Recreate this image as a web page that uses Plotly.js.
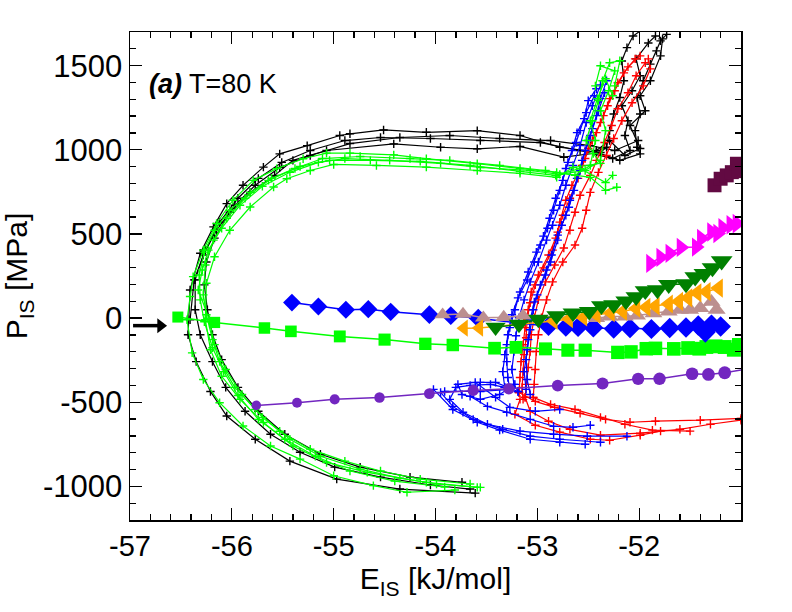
<!DOCTYPE html>
<html>
<head>
<meta charset="utf-8">
<script src="https://cdn.plot.ly/plotly-2.35.2.min.js"></script>
<style>html,body{margin:0;padding:0;background:#fff;}#chart{width:792px;height:612px;}</style>
</head>
<body>
<div id="chart"></div>
<script>
// ---------- axis ticks ----------
const xTickVals = [-57, -56, -55, -54, -53, -52];
const xTickText = ['-57', '-56', '-55', '-54', '-53', '-52'];
const yTickVals = [-1000, -500, 0, 500, 1000, 1500];
const yTickText = ['-1000', '-500', '0', '500', '1000', '1500'];

// ---------- trajectories (E_IS [kJ/mol], P_IS [MPa]) ----------
// black
const k1E = [-53.61,-54.35,-54.97,-55.43,-55.77,-56.05,-56.21,-56.35,-56.43,-56.41,-56.31,-56.18,-56.05,-55.89,-55.69,-55.53,-55.26,-54.94,-54.84,-54.51,-54.09,-53.59,-53.17,-52.78,-52.42,-52.19,-51.99,-52.02,-52.04,-51.99,-52.02,-51.96,-51.89,-51.83,-51.79,-51.73];
const k1P = [-1040,-1016,-957,-850,-720,-582,-436,-259,-99,167,385,542,680,789,897,976,1025,1085,1095,1118,1104,1114,1085,1015,986,937,976,1015,1114,1213,1311,1410,1509,1588,1647,1686];
const k2E = [-53.74,-54.25,-54.74,-55.13,-55.48,-55.74,-55.94,-56.10,-56.19,-56.24,-56.27,-56.25,-56.17,-56.02,-55.82,-55.58,-55.40,-55.07,-54.41,-53.95,-53.59,-53.17,-52.74,-52.38,-52.32,-52.29,-52.25,-52.19,-52.15,-52.17,-52.12,-52.06,-51.99];
const k2P = [-976,-945,-886,-809,-690,-554,-412,-247,-99,49,197,333,475,629,747,848,937,996,1035,1015,1006,1020,956,984,1015,1114,1213,1311,1410,1528,1607,1676,1706];
const k3E = [-56.41,-56.37,-56.26,-56.12,-55.94,-55.74,-55.51,-55.23,-54.89,-54.54,-54.05,-53.56,-52.97,-52.58,-52.26,-52.09,-52.14,-52.11,-52.17,-52.07,-51.99,-52.03,-51.91,-51.84];
const k3P = [-10,227,404,570,712,830,925,996,1055,1073,1067,1055,1043,996,948,996,1085,1173,1262,1351,1440,1540,1635,1676];
const k4E = [-52.42,-52.29,-52.14,-51.99,-52.09,-51.94,-51.99,-51.89,-51.79,-51.77];
const k4P = [996,1055,966,1008,1144,1232,1321,1410,1558,1659];
const k5E = [-53.66,-54.05,-54.54,-54.99,-55.33,-55.62,-55.87,-56.06,-56.19,-56.31,-56.36,-56.36,-56.28,-56.15,-55.97,-55.77,-55.53,-55.23,-54.84,-54.35,-53.86,-53.37,-52.87,-52.48,-52.24,-52.01];
const k5P = [-1016,-992,-945,-886,-797,-690,-554,-412,-259,-99,49,227,375,522,670,789,895,966,1037,1073,1085,1067,1055,1025,996,1055];

// red
const r1E = [-51.99,-52.11,-52.21,-52.29,-52.35,-52.42,-52.50,-52.56,-52.66,-52.72,-52.78,-52.82,-52.89,-52.99,-53.06,-53.09,-53.12,-53.14,-53.16,-53.17,-53.18];
const r1P = [1558,1493,1398,1304,1203,1102,1008,907,789,700,570,475,375,256,155,49,-57,-158,-259,-353,-442];
const r2E = [-51.91,-51.89,-51.96,-52.07,-52.17,-52.25,-52.32,-52.40,-52.48,-52.52,-52.56,-52.63,-52.75,-52.85,-52.91,-52.96,-52.99,-53.01,-53.02,-53.03,-53.04];
const r2P = [1540,1481,1380,1280,1173,1067,966,866,747,641,534,434,333,215,108,2,-99,-199,-306,-394,-471];
const r3E = [-51.94,-52.03,-52.11,-52.21,-52.27,-52.34,-52.42,-52.48,-52.58,-52.63,-52.68,-52.74,-52.83,-52.92,-52.99,-53.03,-53.06,-53.07,-53.09,-53.11,-53.12];
const r3P = [1517,1440,1339,1244,1144,1043,937,848,730,629,522,416,315,215,108,2,-99,-199,-294,-394,-471];
const r4E = [-52.04,-52.15,-52.24,-52.31,-52.38,-52.46,-52.53,-52.60,-52.68,-52.75,-52.80,-52.85,-52.94,-53.02,-53.07,-53.10,-53.11,-53.13,-53.14,-53.15,-53.14];
const r4P = [1540,1457,1351,1262,1162,1055,948,830,712,611,511,404,298,197,91,-10,-117,-217,-318,-412,-483];
const rb1E = [-53.18,-53.02,-52.83,-52.58,-52.33,-52.09,-51.84,-51.40,-51.00];
const rb1P = [-442,-495,-531,-566,-602,-619,-613,-607,-596];
const rb2E = [-53.12,-53.07,-52.89,-52.68,-52.38,-51.99,-51.60,-51.30,-51.00];
const rb2P = [-471,-554,-613,-661,-696,-684,-661,-631,-607];
const rb3E = [-53.17,-53.22,-53.02,-52.78,-52.48,-52.29,-51.99,-51.79];
const rb3P = [-483,-572,-637,-678,-720,-726,-696,-672];
const rb4E = [-53.04,-52.87,-52.63,-52.38,-52.14,-51.87,-51.50];
const rb4P = [-471,-513,-543,-590,-631,-666,-672];

// blue
const b1E = [-52.42,-52.50,-52.54,-52.61,-52.66,-52.72,-52.78,-52.84,-52.90,-52.97,-53.03,-53.10,-53.19,-53.25,-53.29,-53.32,-53.34,-53.32];
const b1P = [1363,1292,1185,1102,996,889,759,641,534,434,333,226,120,20,-99,-217,-318,-412];
const b2E = [-52.34,-52.40,-52.46,-52.50,-52.56,-52.61,-52.68,-52.72,-52.80,-52.86,-52.91,-52.97,-53.03,-53.07,-53.09,-53.11,-53.10,-53.07];
const b2P = [1339,1232,1126,1055,937,830,700,611,493,375,286,197,96,-10,-128,-247,-365,-454];
const b3E = [-52.38,-52.46,-52.52,-52.58,-52.65,-52.72,-52.78,-52.85,-52.91,-52.99,-53.07,-53.13,-53.18,-53.21,-53.23,-53.25,-53.23,-53.19];
const b3P = [1386,1262,1162,1025,907,789,670,552,463,333,215,108,2,-105,-199,-306,-394,-436];
const b4E = [-52.44,-52.52,-52.58,-52.62,-52.70,-52.75,-52.82,-52.88,-52.94,-53.01,-53.09,-53.17,-53.22,-53.27,-53.30,-53.30,-53.29,-53.27];
const b4P = [1321,1221,1114,1043,925,818,712,593,487,392,274,155,49,-57,-158,-259,-353,-424];
const b5E = [-52.32,-52.38,-52.42,-52.48,-52.53,-52.58,-52.64,-52.69,-52.76,-52.80,-52.87,-52.92,-53.00,-53.04,-53.07,-53.10,-53.13,-53.11];
const b5P = [1410,1304,1203,1085,996,877,759,659,552,463,333,256,138,49,-69,-188,-318,-424];
const bb1E = [-53.32,-53.46,-53.66,-53.80,-53.86,-53.73,-53.49,-53.17,-52.84,-52.51,-52.12];
const bb1P = [-412,-394,-400,-412,-483,-560,-631,-672,-690,-702,-702];
const bb2E = [-53.27,-53.56,-53.91,-53.95,-53.83,-53.63,-53.34,-53.07,-52.78,-52.38];
const bb2P = [-424,-436,-436,-442,-525,-602,-661,-702,-720,-738];
const bb3E = [-53.19,-53.41,-53.56,-53.66,-53.49,-53.30,-53.07,-52.84,-52.65,-52.48];
const bb3P = [-436,-382,-382,-465,-525,-560,-602,-643,-649,-637];
const bb4E = [-54.02,-53.83,-53.59,-53.37,-53.07,-52.78,-52.53];
const bb4P = [-424,-543,-619,-666,-720,-738,-750];
const bb5E = [-53.22,-53.37,-53.56,-53.74,-53.78,-53.61,-53.41,-53.27,-53.02,-52.78];
const bb5P = [-394,-454,-483,-454,-394,-382,-471,-531,-554,-543];

// green
const g1E = [-53.81,-54.28,-54.61,-55.00,-55.33,-55.62,-55.89,-56.12,-56.28,-56.39,-56.44,-56.41,-56.38,-56.28,-56.15,-55.99,-55.79,-55.56,-55.30,-55.07,-54.84,-54.41,-54.09,-53.59,-53.17,-52.81,-52.48,-52.33,-52.22];
const g1P = [-1022,-1035,-996,-937,-838,-760,-641,-503,-365,-207,-10,128,246,404,562,700,818,888,947,980,980,970,947,917,889,865,836,759,777];
const g2E = [-53.59,-54.09,-54.67,-55.07,-55.40,-55.69,-55.92,-56.10,-56.21,-56.26,-56.25,-56.17,-56.02,-55.82,-55.59,-55.46,-55.23,-55.00,-54.58,-54.09,-53.59,-53.17,-52.81,-52.65,-52.38,-52.45,-52.52,-52.46,-52.40,-52.36,-52.29,-52.19,-52.24];
const g2P = [-1006,-976,-917,-858,-760,-621,-483,-346,-188,-10,207,364,522,660,779,828,877,913,907,897,877,860,836,895,919,978,1055,1173,1292,1410,1517,1529,1380];
const g3E = [-53.56,-53.99,-54.35,-54.74,-55.13,-55.43,-55.70,-55.90,-56.06,-56.17,-56.22,-56.33,-56.29,-56.23,-56.10,-55.92,-55.70,-55.43,-55.15,-54.89,-54.45,-53.95,-53.56,-53.07,-52.78,-52.53,-52.38,-52.33,-52.38,-52.30,-52.24,-52.38,-52.43];
const g3P = [-1006,-986,-951,-898,-821,-720,-590,-454,-306,-158,-10,167,286,404,534,670,783,866,925,948,937,919,895,877,854,877,937,1114,1232,1351,1469,1499,1380];
const g4E = [-53.66,-54.15,-54.54,-54.89,-55.23,-55.53,-55.77,-55.97,-56.12,-56.19,-56.25,-56.28,-56.26,-56.18,-56.05,-55.87,-55.64,-55.38,-55.11,-54.74,-54.25,-53.86,-53.37,-52.92,-52.63,-52.48,-52.43,-52.48,-52.41,-52.33,-52.26];
const g4P = [-986,-957,-909,-850,-779,-673,-543,-412,-259,-128,20,138,315,463,593,712,818,889,948,960,948,937,907,877,848,907,1055,1173,1304,1422,1321];
const g5E = [-53.91,-54.40,-54.84,-55.18,-55.48,-55.74,-55.94,-56.08,-56.19,-56.27,-56.31,-56.32,-56.27,-56.17,-56.02,-55.82,-55.61,-55.33,-55.04,-54.64,-54.15,-53.66,-53.17,-52.82,-52.58,-52.33,-52.26];
const g5P = [-1004,-969,-909,-821,-720,-602,-460,-318,-176,-22,108,256,392,522,641,747,830,901,937,937,931,907,872,848,889,806,848];

// ---------- marker series ----------
const maroonE = [-51.26,-51.20,-51.14,-51.09,-51.04,-51.02];
const maroonP = [789,828,848,867,917,873];
const magentaE = [-51.89,-51.79,-51.70,-51.59,-51.44,-51.39,-51.29,-51.23,-51.18,-51.10,-51.04];
const magentaP = [325,361,385,420,422,473,512,503,537,555,561];
const dgreenE = [-53.41,-53.18,-52.99,-52.81,-52.65,-52.49,-52.37,-52.25,-52.13,-52.03,-51.94,-51.82,-51.71,-51.54,-51.45,-51.36,-51.28,-51.19];
const dgreenP = [-54,-37,-7,14,30,39,73,79,101,126,162,167,199,203,244,263,298,339];
const orangeE = [-53.72,-53.57,-52.84,-52.69,-52.55,-52.42,-52.28,-52.16,-52.03,-51.93,-51.84,-51.71,-51.61,-51.52,-51.43,-51.34,-51.22];
const orangeP = [-60,-59,-17,-6,4,20,31,39,57,64,71,83,99,120,150,157,178];
const brownE = [-53.93,-53.73,-53.53,-53.33,-53.14,-52.42,-52.29,-52.14,-52.02,-51.86,-51.71,-51.60,-51.50,-51.40,-51.29,-51.24];
const brownP = [20,24,2,5,14,-1,9,9,15,28,39,49,49,59,96,49];
const diamondE = [-55.41,-55.15,-54.88,-54.66,-54.44,-54.06,-53.85,-53.58,-52.89,-52.72,-52.60,-52.45,-52.25,-52.09,-51.88,-51.70,-51.54,-51.42,-51.35,-51.29,-51.20];
const diamondP = [92,69,49,53,37,20,14,-1,-49,-53,-54,-57,-63,-60,-65,-59,-56,-44,-85,-40,-50];
const limeE = [-56.53,-56.17,-55.68,-55.42,-54.94,-54.50,-54.10,-53.83,-53.42,-53.21,-52.92,-52.70,-52.53,-52.21,-52.08,-51.93,-51.84,-51.66,-51.52,-51.41,-51.34,-51.25,-51.16,-51.07,-51.02];
const limeP = [6,-26,-59,-79,-109,-128,-153,-160,-179,-174,-183,-191,-191,-204,-201,-182,-180,-183,-178,-182,-172,-168,-172,-188,-160];
const purpleE = [-55.76,-55.36,-54.99,-54.55,-54.06,-53.63,-53.28,-52.80,-52.36,-52.01,-51.80,-51.48,-51.32,-51.16,-50.98];
const purpleP = [-519,-503,-483,-472,-449,-430,-420,-401,-389,-361,-361,-331,-335,-325,-307];

// arrow (tail / head)
const arrowE = [-56.97, -56.70];
const arrowP = [-45, -45];

// ---------- styling ----------
const BLACK = '#000000', RED = '#ff0000', BLUE = '#0000ff', LIME = '#00ff00';
const FONT = 'Liberation Sans, Arial, Helvetica, sans-serif';

function traj(x, y, color) {
  return {
    x: x, y: y, type: 'scatter', mode: 'lines+markers',
    line: {color: color, width: 1.2},
    marker: {symbol: 'cross-thin', size: 6, opacity: 1, line: {color: color, width: 1.4}, color: color},
    hoverinfo: 'skip', showlegend: false
  };
}
function grow(xs, s0, s1) {
  return xs.map(v => s0 + (s1 - s0) * Math.max(0, Math.min(1, (v + 56.6) / 5.6)));
}
function series(x, y, color, symbol, s0, s1) {
  return {
    x: x, y: y, type: 'scatter', mode: 'lines+markers',
    line: {color: color, width: 1.5},
    marker: {symbol: symbol, size: grow(x, s0, s1), opacity: 1, color: color, line: {width: 0}},
    hoverinfo: 'skip', showlegend: false
  };
}

const data = [
  traj(k1E, k1P, BLACK), traj(k2E, k2P, BLACK), traj(k3E, k3P, BLACK), traj(k4E, k4P, BLACK), traj(k5E, k5P, BLACK),
  traj(r1E, r1P, RED), traj(r2E, r2P, RED), traj(r3E, r3P, RED), traj(r4E, r4P, RED),
  traj(rb1E, rb1P, RED), traj(rb2E, rb2P, RED), traj(rb3E, rb3P, RED), traj(rb4E, rb4P, RED),
  traj(b1E, b1P, BLUE), traj(b2E, b2P, BLUE), traj(b3E, b3P, BLUE), traj(b4E, b4P, BLUE), traj(b5E, b5P, BLUE),
  traj(bb1E, bb1P, BLUE), traj(bb2E, bb2P, BLUE), traj(bb3E, bb3P, BLUE), traj(bb4E, bb4P, BLUE), traj(bb5E, bb5P, BLUE),
  traj(g1E, g1P, LIME), traj(g2E, g2P, LIME), traj(g3E, g3P, LIME), traj(g4E, g4P, LIME), traj(g5E, g5P, LIME),
  series(purpleE, purpleP, '#7226c0', 'circle', 9, 13),
  series(limeE, limeP, LIME, 'square', 11, 14),
  series(diamondE, diamondP, BLUE, 'diamond', 13, 16),
  series(brownE, brownP, '#bc8f8f', 'triangle-up', 13, 16),
  series(orangeE, orangeP, '#ffa500', 'triangle-left', 13, 17),
  series(dgreenE, dgreenP, '#008000', 'triangle-down', 16, 19),
  series(magentaE, magentaP, '#ff00ff', 'triangle-right', 14, 17),
  series(maroonE, maroonP, '#620a42', 'square', 13, 14),
  {
    x: arrowE, y: arrowP, type: 'scatter', mode: 'lines+markers',
    line: {color: '#000', width: 3.5},
    marker: {symbol: ['circle', 'triangle-right'], size: [0, 13], opacity: 1, color: '#000', line: {width: 0}},
    hoverinfo: 'skip', showlegend: false, cliponaxis: false
  }
];

const axisCommon = {
  showline: true, linecolor: '#000', linewidth: 1.5, mirror: 'allticks',
  ticks: 'inside', ticklen: 12, tickwidth: 1.3, tickcolor: '#000',
  showgrid: false, zeroline: false
};

const layout = {
  width: 792, height: 612,
  margin: {l: 130, r: 51, t: 32, b: 92},
  paper_bgcolor: '#fff', plot_bgcolor: '#fff',
  showlegend: false,
  xaxis: Object.assign({}, axisCommon, {
    range: [-57, -51],
    tickmode: 'array', tickvals: xTickVals, ticktext: xTickText,
    tickfont: {family: FONT, size: 29, color: '#000'},
    minor: {tickmode: 'linear', tick0: -57, dtick: 0.2, ticks: 'inside', ticklen: 6, tickwidth: 1.3, tickcolor: '#000', showgrid: false},
    title: {text: 'E<sub>IS</sub> [kJ/mol]', font: {family: FONT, size: 30, color: '#000'}, standoff: 4}
  }),
  yaxis: Object.assign({}, axisCommon, {
    range: [-1200, 1700],
    tickmode: 'array', tickvals: yTickVals, ticktext: yTickText,
    tickfont: {family: FONT, size: 31, color: '#000'},
    minor: {tickmode: 'linear', tick0: 0, dtick: 100, ticks: 'inside', ticklen: 6, tickwidth: 1.3, tickcolor: '#000', showgrid: false},
    title: {text: 'P<sub>IS</sub> [MPa]', font: {family: FONT, size: 30, color: '#000'}, standoff: 6}
  }),
  annotations: [
    {xref: 'paper', yref: 'paper', x: 0.028, y: 0.893, xanchor: 'left', yanchor: 'middle', showarrow: false,
     text: '<b><i>(a)</i></b> T=80 K', font: {family: FONT, size: 27, color: '#000'}}
  ]
};

Plotly.newPlot('chart', data, layout, {staticPlot: true, displayModeBar: false});
</script>
</body>
</html>
